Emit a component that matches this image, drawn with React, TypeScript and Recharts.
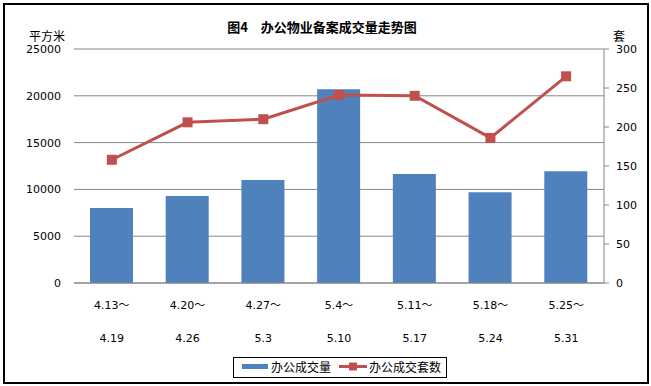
import React from 'react';
import { ComposedChart, Bar, Line, XAxis, YAxis, CartesianGrid } from 'recharts';

const periodStart = ['4.13～', '4.20～', '4.27～', '5.4～', '5.11～', '5.18～', '5.25～'];
const periodEnd = ['4.19', '4.26', '5.3', '5.10', '5.17', '5.24', '5.31'];
const areaValues = [8000, 9300, 11000, 20700, 11650, 9700, 11950];
const unitValues = [158, 206, 210, 241, 240, 186, 265];
const leftTicks = [0, 5000, 10000, 15000, 20000, 25000];
const rightTicks = [0, 50, 100, 150, 200, 250, 300];
const seriesNames = ['办公成交量', '办公成交套数'];
const chartTitle = '图4　办公物业备案成交量走势图';
const leftUnit = '平方米';
const rightUnit = '套';

const data = periodStart.map((s, i) => ({
  period: s + '|' + periodEnd[i],
  area: areaValues[i],
  units: unitValues[i],
}));

const NUM_FONT = "'DejaVu Sans', 'Noto Sans CJK SC', sans-serif";
const CJK_FONT = "'Noto Sans CJK SC', sans-serif";
const BLUE = '#4F81BD';
const RED = '#C0504D';
const GRID = '#868686';

const XTick = (props: any) => {
  const { x, y, payload } = props;
  const parts = String(payload.value).split('|');
  return (
    <g>
      <text x={x} y={y + 18} textAnchor="middle" fontSize={11} fontFamily={NUM_FONT} fill="#000">
        {parts[0]}
      </text>
      <text x={x} y={y + 51} textAnchor="middle" fontSize={11} fontFamily={NUM_FONT} fill="#000">
        {parts[1]}
      </text>
    </g>
  );
};

const SquareDot = (props: any) => {
  const { cx, cy, index } = props;
  if (cx == null || cy == null) return <g key={index} />;
  return <rect key={index} x={cx - 5} y={cy - 5} width={10} height={10} fill={RED} />;
};

export default function App() {
  return (
    <div style={{ position: 'absolute', left: 0, top: 0, width: 651, height: 386, background: '#fff' }}>
      <div style={{ position: 'absolute', left: 0, top: 0 }}>
        <ComposedChart
          width={651}
          height={386}
          data={data}
          margin={{ top: 49, right: 7, bottom: 43, left: 14 }}
          barCategoryGap={0}
        >
          <CartesianGrid yAxisId="left" vertical={false} stroke={GRID} strokeWidth={1} />
          <XAxis
            dataKey="period"
            height={60}
            tickLine={false}
            axisLine={{ stroke: GRID, strokeWidth: 1 }}
            tick={<XTick />}
            interval={0}
          />
          <YAxis
            yAxisId="left"
            orientation="left"
            width={60}
            domain={[0, 25000]}
            ticks={leftTicks}
            tickLine={false}
            axisLine={false}
            tickSize={6}
            tickMargin={7}
            tick={{ fontSize: 11, fontFamily: NUM_FONT, fill: '#000' }}
          />
          <YAxis
            yAxisId="right"
            orientation="right"
            width={40}
            domain={[0, 300]}
            ticks={rightTicks}
            tickLine={{ stroke: GRID }}
            axisLine={{ stroke: GRID, strokeWidth: 1 }}
            tickSize={5}
            tickMargin={7}
            tick={{ fontSize: 11, fontFamily: NUM_FONT, fill: '#000', textAnchor: 'start' }}
          />
          <Bar yAxisId="left" dataKey="area" name={seriesNames[0]} fill={BLUE} barSize={43} isAnimationActive={false} />
          <Line
            yAxisId="right"
            dataKey="units"
            name={seriesNames[1]}
            stroke={RED}
            strokeWidth={3}
            dot={<SquareDot />}
            activeDot={false}
            isAnimationActive={false}
          />
        </ComposedChart>
      </div>
      <svg
        width={651}
        height={386}
        style={{ position: 'absolute', left: 0, top: 0, pointerEvents: 'none' }}
      >
        <rect x={4} y={4} width={644} height={379} fill="none" stroke="#000" strokeWidth={2} />
        <text x={322} y={31.5} textAnchor="middle" fontSize={13} fontWeight="bold" fontFamily={CJK_FONT} fill="#000">
          {chartTitle}
        </text>
        <text x={29} y={41} fontSize={12} fontFamily={CJK_FONT} fill="#000">
          {leftUnit}
        </text>
        <text x={613} y={41} fontSize={12} fontFamily={CJK_FONT} fill="#000">
          {rightUnit}
        </text>
        <rect x={233.5} y={357.5} width={213} height={20} fill="#fff" stroke="#000" strokeWidth={1} />
        <rect x={242} y={364} width={26} height={5} fill={BLUE} />
        <text x={271} y={372} fontSize={12} fontFamily={CJK_FONT} fill="#000">
          {seriesNames[0]}
        </text>
        <line x1={339} y1={366.5} x2={367} y2={366.5} stroke={RED} strokeWidth={3} />
        <rect x={349} y={362.5} width={8} height={8} fill={RED} />
        <text x={369} y={372} fontSize={12} fontFamily={CJK_FONT} fill="#000">
          {seriesNames[1]}
        </text>
      </svg>
    </div>
  );
}
